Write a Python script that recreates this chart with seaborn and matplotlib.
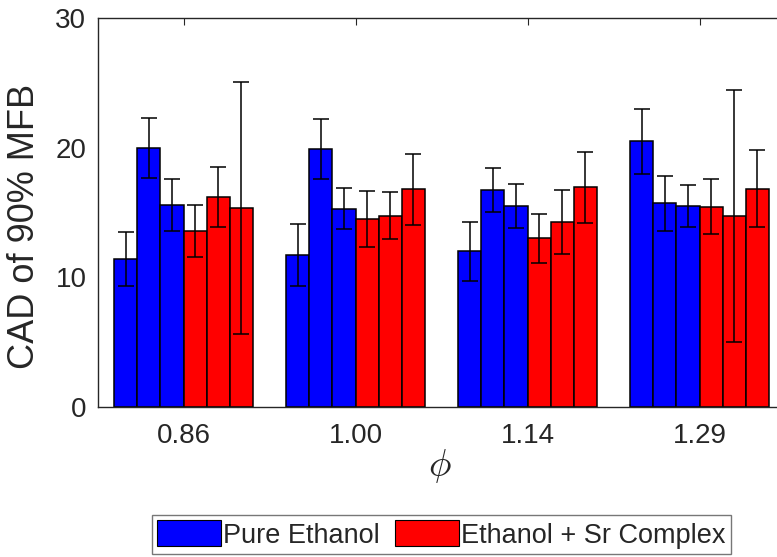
import numpy as np
import pandas as pd
import matplotlib
matplotlib.use("Agg")
import matplotlib.pyplot as plt
from matplotlib.patches import Patch
import seaborn as sns

# ---- data ----
phi_labels = ["0.86", "1.00", "1.14", "1.29"]
series_names = ["Pure Ethanol", "Ethanol + Sr Complex"]
pure_means = [[11.4, 20.0, 15.6], [11.7, 19.9, 15.3], [12.0, 16.7, 15.5], [20.5, 15.7, 15.5]]
pure_errs = [[2.1, 2.3, 2.0], [2.4, 2.3, 1.6], [2.3, 1.7, 1.7], [2.5, 2.1, 1.65]]
sr_means = [[13.6, 16.2, 15.35], [14.5, 14.75, 16.8], [13.0, 14.25, 16.95], [15.45, 14.75, 16.85]]
sr_errs = [[2.0, 2.3, 9.75], [2.15, 1.8, 2.75], [1.9, 2.45, 2.75], [2.1, 9.75, 2.95]]
y_ticks = [0, 10, 20, 30]

rows = []
for gi, phi in enumerate(phi_labels):
    vals = pure_means[gi] + sr_means[gi]
    errs = pure_errs[gi] + sr_errs[gi]
    for k in range(6):
        rows.append({"phi": phi, "bar": k, "value": vals[k], "err": errs[k]})
df = pd.DataFrame(rows)

blue = "#0000FF"
red = "#FF0000"
palette = [blue] * 3 + [red] * 3

sns.set_style("white")
plt.rcParams["font.family"] = ["Liberation Sans", "DejaVu Sans"]
plt.rcParams["mathtext.fontset"] = "cm"

fig = plt.figure(figsize=(7.77, 5.57), dpi=100)
ax = fig.add_axes([97.5 / 777, 1 - 406.7 / 557, 688 / 777, (406.7 - 18.3) / 557])

sns.barplot(data=df, x="phi", y="value", hue="bar", palette=palette,
            order=phi_labels, hue_order=list(range(6)), errorbar=None,
            width=0.808, saturation=1, edgecolor="black", linewidth=1.1,
            legend=False, ax=ax)

# error bars positioned on the library-drawn bars
bar_containers = list(ax.containers)
for k, cont in enumerate(bar_containers):
    xs, ys, es = [], [], []
    for gi, bar in enumerate(cont.patches):
        xs.append(bar.get_x() + bar.get_width() / 2)
        ys.append(bar.get_height())
        es.append(df[(df["phi"] == phi_labels[gi]) & (df["bar"] == k)]["err"].iloc[0])
    ax.errorbar(xs, ys, yerr=es, fmt="none", ecolor="black", elinewidth=1.1,
                capsize=5.5, capthick=1.1, zorder=5)

ax.set_xlim(-0.5, 3.5)
ax.set_ylim(0, 30)
ax.set_yticks(y_ticks)
ax.set_xticks(range(len(phi_labels)))
ax.set_xticklabels(phi_labels)

spine_col = "#262626"
for s in ax.spines.values():
    s.set_visible(True)
    s.set_color(spine_col)
    s.set_linewidth(1.0)
ax.spines["right"].set_visible(False)
ax.tick_params(axis="both", direction="in", length=5, width=0.8, colors=spine_col,
               labelsize=20, top=True, right=False, labeltop=False, labelright=False)
ax.tick_params(axis="y", pad=8)
ax.tick_params(axis="x", pad=12)

ax.set_ylabel("CAD of 90% MFB", fontsize=26, color=spine_col)
ax.yaxis.set_label_coords(-0.08, 0.465)
ax.set_xlabel(r"$\phi$", fontsize=27, color=spine_col)
ax.xaxis.set_label_coords(0.498, -0.103)

handles = [Patch(facecolor=blue, edgecolor="black", linewidth=0.8),
           Patch(facecolor=red, edgecolor="black", linewidth=0.8)]
leg = fig.legend(handles, series_names, loc="center", bbox_to_anchor=(441.5 / 777, 1 - 534.5 / 557),
                 ncol=2, fontsize=19.5, frameon=True, fancybox=False, edgecolor="#555555",
                 handlelength=2.35, handleheight=1.1, handletextpad=0.1, columnspacing=0.55,
                 borderpad=0.2, borderaxespad=0)
leg.get_frame().set_linewidth(1.0)

fig.savefig("out.png", dpi=100)
